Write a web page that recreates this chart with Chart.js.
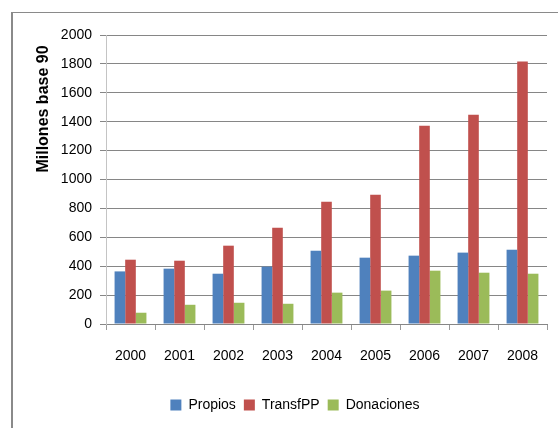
<!DOCTYPE html>
<html>
<head>
<meta charset="utf-8">
<script src="https://cdn.jsdelivr.net/npm/chart.js@4.4.1/dist/chart.umd.min.js"></script>
<style>
  html, body { margin: 0; padding: 0; background: #fff; }
  #wrap { position: relative; width: 558px; height: 428px; overflow: hidden; }
  #frame { position: absolute; left: 11px; top: 12px; width: 600px; height: 500px;
           border-left: 2px solid #8a8a8a; border-top: 1px solid #8a8a8a; }
  #chartBox { position: absolute; left: 0; top: 0; width: 558px; height: 428px; }
</style>
</head>
<body>
<div id="wrap">
  <div id="frame"></div>
  <div id="chartBox"><canvas id="barChart"></canvas></div>
</div>
<script>
// datos
var years = ['2000', '2001', '2002', '2003', '2004', '2005', '2006', '2007', '2008'];
var propios = [364, 383, 348, 397, 507, 459, 473, 494, 514];
var transfPP = [445, 438, 542, 666, 846, 895, 1372, 1448, 1816];
var donaciones = [78, 133, 147, 140, 217, 231, 369, 355, 348];
var yTicks = [0, 200, 400, 600, 800, 1000, 1200, 1400, 1600, 1800, 2000];
var yTitle = 'Millones base 90';

var fontName = "'Liberation Sans', Arial, sans-serif";

// titulo del eje Y dibujado a mano para ubicarlo igual que el original
var yTitlePlugin = {
	id: 'yTitlePlugin',
	afterDraw: function(chart) {
		var ctx = chart.ctx;
		ctx.save();
		ctx.translate(44, 109);
		ctx.rotate(-Math.PI / 2);
		ctx.font = 'bold 16px ' + fontName;
		ctx.fillStyle = '#000';
		ctx.textAlign = 'center';
		ctx.textBaseline = 'middle';
		ctx.fillText(yTitle, 0, 0);
		ctx.restore();
	}
};

const data = {
	labels: years,
	datasets: [
		{ label: 'Propios', data: propios, backgroundColor: '#4F81BD' },
		{ label: 'TransfPP', data: transfPP, backgroundColor: '#C0504D' },
		{ label: 'Donaciones', data: donaciones, backgroundColor: '#9BBB59' }
	]
};

const config = {
	type: 'bar',
	data: data,
	plugins: [yTitlePlugin],
	options: {
		responsive: true,
		maintainAspectRatio: false,
		animation: false,
		layout: { padding: { left: 43, right: 11, top: 35, bottom: 6 } },
		datasets: { bar: { categoryPercentage: 0.65, barPercentage: 1.0 } },
		plugins: {
			legend: {
				position: 'bottom',
				labels: {
					boxWidth: 11, boxHeight: 11, padding: 8,
					color: '#000',
					font: { family: fontName, size: 14 }
				}
			},
			tooltip: { enabled: false }
		},
		scales: {
			x: {
				afterFit: function(scale) { scale.height = 66; },
				grid: { display: true, offset: true, drawOnChartArea: false, tickLength: 6, color: '#9a9a9a' },
				border: { display: true, color: '#868686', width: 1 },
				ticks: { color: '#000', padding: 18, font: { family: fontName, size: 14 } }
			},
			y: {
				min: 0,
				max: 2000,
				afterFit: function(scale) { scale.width = 63; },
				afterBuildTicks: function(scale) {
					scale.ticks = yTicks.map(function(v) { return { value: v }; });
				},
				grid: { color: '#868686', tickLength: 6, lineWidth: 1 },
				border: { display: true, color: '#c4c4c4', width: 1 },
				ticks: {
					color: '#000', padding: 8, font: { family: fontName, size: 14 },
					callback: function(value) { return String(value); }
				}
			}
		}
	}
};

var ctx = document.getElementById('barChart').getContext('2d');
var makeBarChart = (ctx, config) => new Chart(ctx, config);
makeBarChart(ctx, config);
</script>
</body>
</html>
